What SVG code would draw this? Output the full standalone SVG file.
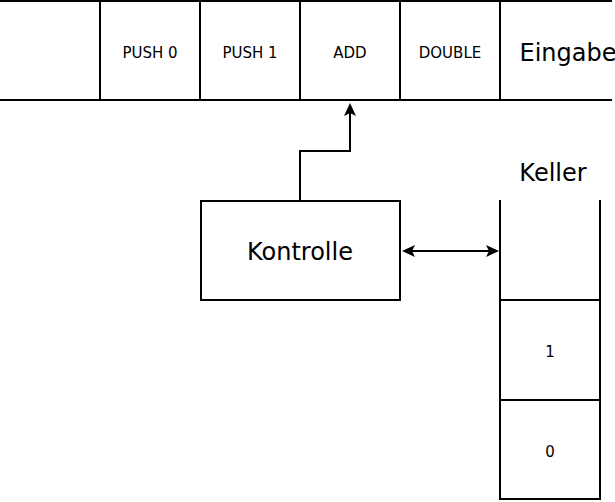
<svg xmlns="http://www.w3.org/2000/svg" width="615" height="502" viewBox="0 0 615 502">
<style>
.ln{stroke:#000;stroke-width:2;fill:none}
.box{stroke:#000;stroke-width:2;fill:#fff}
.s{font-family:"DejaVu Sans",Verdana,sans-serif;font-size:15px;fill:#000;text-anchor:middle;dominant-baseline:central}
.b{font-family:"DejaVu Sans",Verdana,sans-serif;font-size:24px;fill:#000;text-anchor:middle;dominant-baseline:central}
</style>
<defs>
<marker id="ah" viewBox="0 0 13 12" refX="11" refY="6" markerWidth="13" markerHeight="12" markerUnits="userSpaceOnUse" orient="auto-start-reverse">
<path d="M0,0 L13,6 L0,12 L3,6 Z" fill="#000"/>
</marker>
</defs>
<rect width="615" height="502" fill="#fff"/>
<g id="eingabe">
<line class="ln" x1="0" y1="1" x2="612" y2="1"/>
<line class="ln" x1="0" y1="100" x2="612" y2="100"/>
<line class="ln" x1="100" y1="1" x2="100" y2="100"/>
<line class="ln" x1="200" y1="1" x2="200" y2="100"/>
<line class="ln" x1="300" y1="1" x2="300" y2="100"/>
<line class="ln" x1="400" y1="1" x2="400" y2="100"/>
<line class="ln" x1="500" y1="1" x2="500" y2="100"/>
<text class="s" x="150" y="52.5">PUSH 0</text>
<text class="s" x="250" y="52.5">PUSH 1</text>
<text class="s" x="350" y="52.5">ADD</text>
<text class="s" x="450" y="52.5">DOUBLE</text>
<text class="b" x="568" y="52.5">Eingabe</text>
</g>
<g id="kontrolle">
<rect class="box" x="201" y="201" width="199" height="99"/>
<text class="b" x="300" y="251.5">Kontrolle</text>
</g>
<g id="keller">
<text class="b" x="553" y="172.5">Keller</text>
<line class="ln" x1="500" y1="200" x2="500" y2="500"/>
<line class="ln" x1="600" y1="200" x2="600" y2="500"/>
<line class="ln" x1="500" y1="300" x2="600" y2="300"/>
<line class="ln" x1="500" y1="400" x2="600" y2="400"/>
<line class="ln" x1="500" y1="499" x2="600" y2="499"/>
<text class="s" x="550" y="352">1</text>
<text class="s" x="550" y="451.5">0</text>
</g>
<g id="connectors">
<path class="ln" d="M300,200 V151 H350 V105" marker-end="url(#ah)"/>
<path class="ln" d="M404,251 H497" marker-start="url(#ah)" marker-end="url(#ah)"/>
</g>
</svg>
